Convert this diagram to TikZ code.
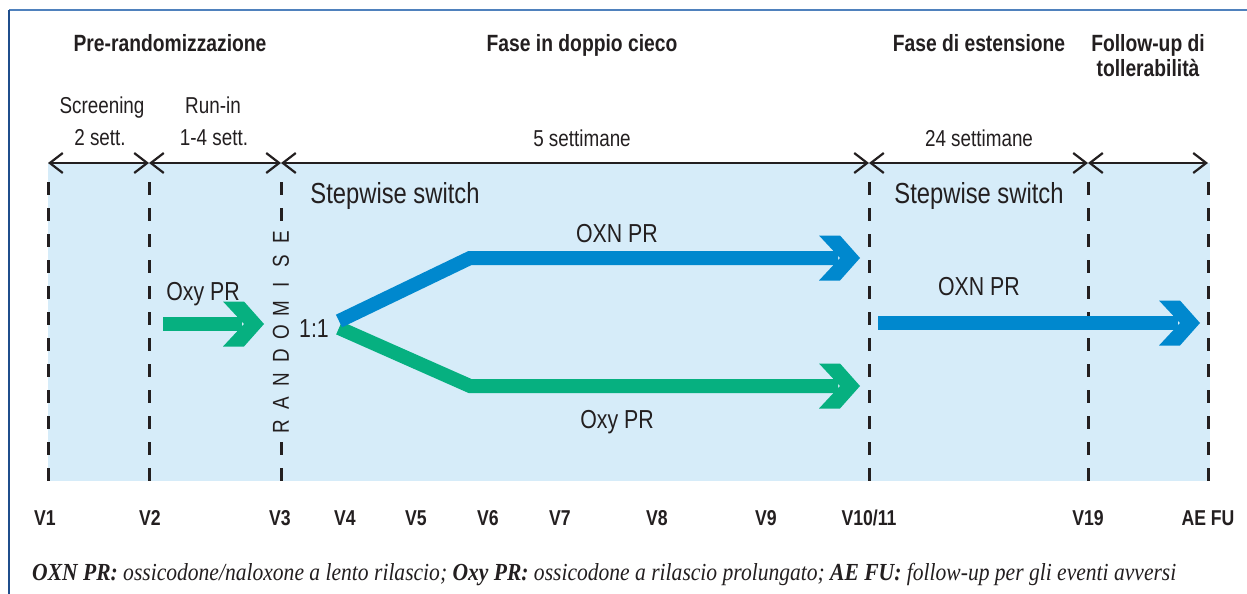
\documentclass[tikz,border=0pt]{standalone}
\usepackage{fontspec}
\setmainfont{Liberation Sans}[FakeStretch=0.82]
\newfontfamily\capfont{Liberation Serif}[FakeStretch=0.88]
\usetikzlibrary{arrows.meta,calc}
\definecolor{bgblue}{RGB}{214,236,249}
\definecolor{armblue}{RGB}{0,136,206}
\definecolor{armgreen}{RGB}{6,176,128}
\definecolor{ink}{RGB}{35,31,32}
\definecolor{frameA}{RGB}{79,129,189}
\definecolor{frameB}{RGB}{31,78,140}
\tikzset{
 head/.style={font=\fontsize{23.5}{25}\selectfont\bfseries, text=ink, inner sep=0pt, anchor=base},
 sub/.style={font=\fontsize{23}{25}\selectfont, text=ink, inner sep=0pt, anchor=base},
 big/.style={font=\fontsize{29}{30}\selectfont, text=ink, inner sep=0pt, anchor=base},
 lab/.style={font=\fontsize{26}{28}\selectfont, text=ink, inner sep=0pt, anchor=base},
 vlab/.style={font=\fontsize{21.5}{24}\selectfont\bfseries, text=ink, inner sep=0pt, anchor=base},
 rnd/.style={font=\fontsize{23}{24}\selectfont, text=ink, inner sep=0pt, rotate=90},
 foot/.style={font=\capfont\itshape\fontsize{24.5}{26}\selectfont, text=ink, inner sep=0pt, anchor=base west},
 visit/.style={ink, line width=3pt, dash pattern=on 13pt off 13pt},
 span/.style={ink, line width=2.2pt, {Straight Barb[length=13pt,width=20pt]}-{Straight Barb[length=13pt,width=20pt]}},
 shaft/.style={line width=14pt},
 chev/.pic={\fill (-41,-22.5) -- (-20,-22.5) -- (0,0) -- (-20,22.5) -- (-41,22.5) -- (-20,0) -- cycle;}
}
\begin{document}
\begin{tikzpicture}[x=1pt,y=-1pt]
\useasboundingbox (0,0) rectangle (1247,594);
\fill[white] (0,0) rectangle (1247,594);
% frame
\draw[frameA, line width=1.5pt] (9,10) -- (1247,10);
\draw[frameB, line width=1.5pt] (9,10) -- (9,594);
% background
\fill[bgblue] (48,163) rectangle (1210,481);
% visit coordinates
\foreach \n/\x in {a/48,b/149,c/281,d/869,e/1088,f/1208}{
  \coordinate (t\n) at (\x,163);
  \coordinate (u\n) at (\x,182);
  \coordinate (w\n) at (\x,481);
}
\coordinate (c1) at (281,222);
\coordinate (c2) at (281,442);
% dashed visit lines
\draw[visit] (ua) -- (wa);
\draw[visit] (ub) -- (wb);
\draw[visit] (uc) -- (c1);
\draw[visit] (c2) -- (wc);
\draw[visit] (ud) -- (wd);
\draw[visit] (ue) -- (we);
\draw[visit] (uf) -- (wf);
% period spans
\draw[span] (ta) -- (tb);
\draw[span] (tb) -- (tc);
\draw[span] (tc) -- (td);
\draw[span] (td) -- (te);
\draw[span] (te) -- (tf);
% headings
\node[head] (h1) at (170,52) {Pre-randomizzazione};
\node[head] (h2) at (582,52) {Fase in doppio cieco};
\node[head] (h3) at (979,52) {Fase di estensione};
\node[head, align=center] (h4) at (1148,77) {Follow-up di\\tollerabilità};
% span labels
\node[sub] (s1) at (102,113) {Screening};
\node[sub] (s2) at (100,145) {2 sett.};
\node[sub] (s3) at (213,113) {Run-in};
\node[sub] (s4) at (214,145) {1-4 sett.};
\node[sub] (s5) at (582,146) {5 settimane};
\node[sub] (s6) at (979,146) {24 settimane};
% stepwise
\node[big] (sw1) at (395,203) {Stepwise switch};
\node[big] (sw2) at (979,203) {Stepwise switch};
% randomise
\foreach \L [count=\i] in {R,A,N,D,O,M,I,S,E}
  \node[rnd] (rnd\i) at (281,{427-(\i-1)*23.75}) {\L};
% run-in arrow
\coordinate (g0) at (163,324);
\coordinate (g1) at (264,324);
\draw[armgreen, shaft] (g0) -- ($(g1)+(-22,0)$);
\pic[armgreen] at (g1) {chev};
\node[lab] (oxy1) at (203,300) {Oxy PR};
\node[lab] (ratio) at (314,337) {1:1};
% branches
\coordinate (sg) at (339,328);
\coordinate (sb) at (339,321);
\coordinate (kg) at (470,386);
\coordinate (kb) at (470,258);
\coordinate (eg) at (860,386);
\coordinate (eb) at (860,258);
\draw[armgreen, shaft] (sg) -- (kg) -- ($(eg)+(-22,0)$);
\pic[armgreen] at (eg) {chev};
\draw[armblue, shaft] (sb) -- (kb) -- ($(eb)+(-22,0)$);
\pic[armblue] at (eb) {chev};
\node[lab] (oxn1) at (617,242) {OXN PR};
\node[lab] (oxy2) at (617,428) {Oxy PR};
% extension arrow
\coordinate (x0) at (878,323);
\coordinate (x1) at (1200,323);
\draw[armblue, shaft] (x0) -- ($(x1)+(-22,0)$);
\pic[armblue] at (x1) {chev};
\node[lab] (oxn2) at (979,295) {OXN PR};
% visits
\foreach \t/\x [count=\i] in {V1/45,V2/150,V3/280,V4/345,V5/416,V6/488,V7/560,V8/657,V9/766,V10\slash 11/869,V19/1088,AE FU/1208}
  \node[vlab] (v\i) at (\x,525) {\t};
% footnote
\node[foot] (foot) at (32,580) {\textbf{OXN PR:} ossicodone/naloxone a lento rilascio; \textbf{Oxy PR:} ossicodone a rilascio prolungato; \textbf{AE FU:} follow-up per gli eventi avversi};
\end{tikzpicture}
\end{document}
